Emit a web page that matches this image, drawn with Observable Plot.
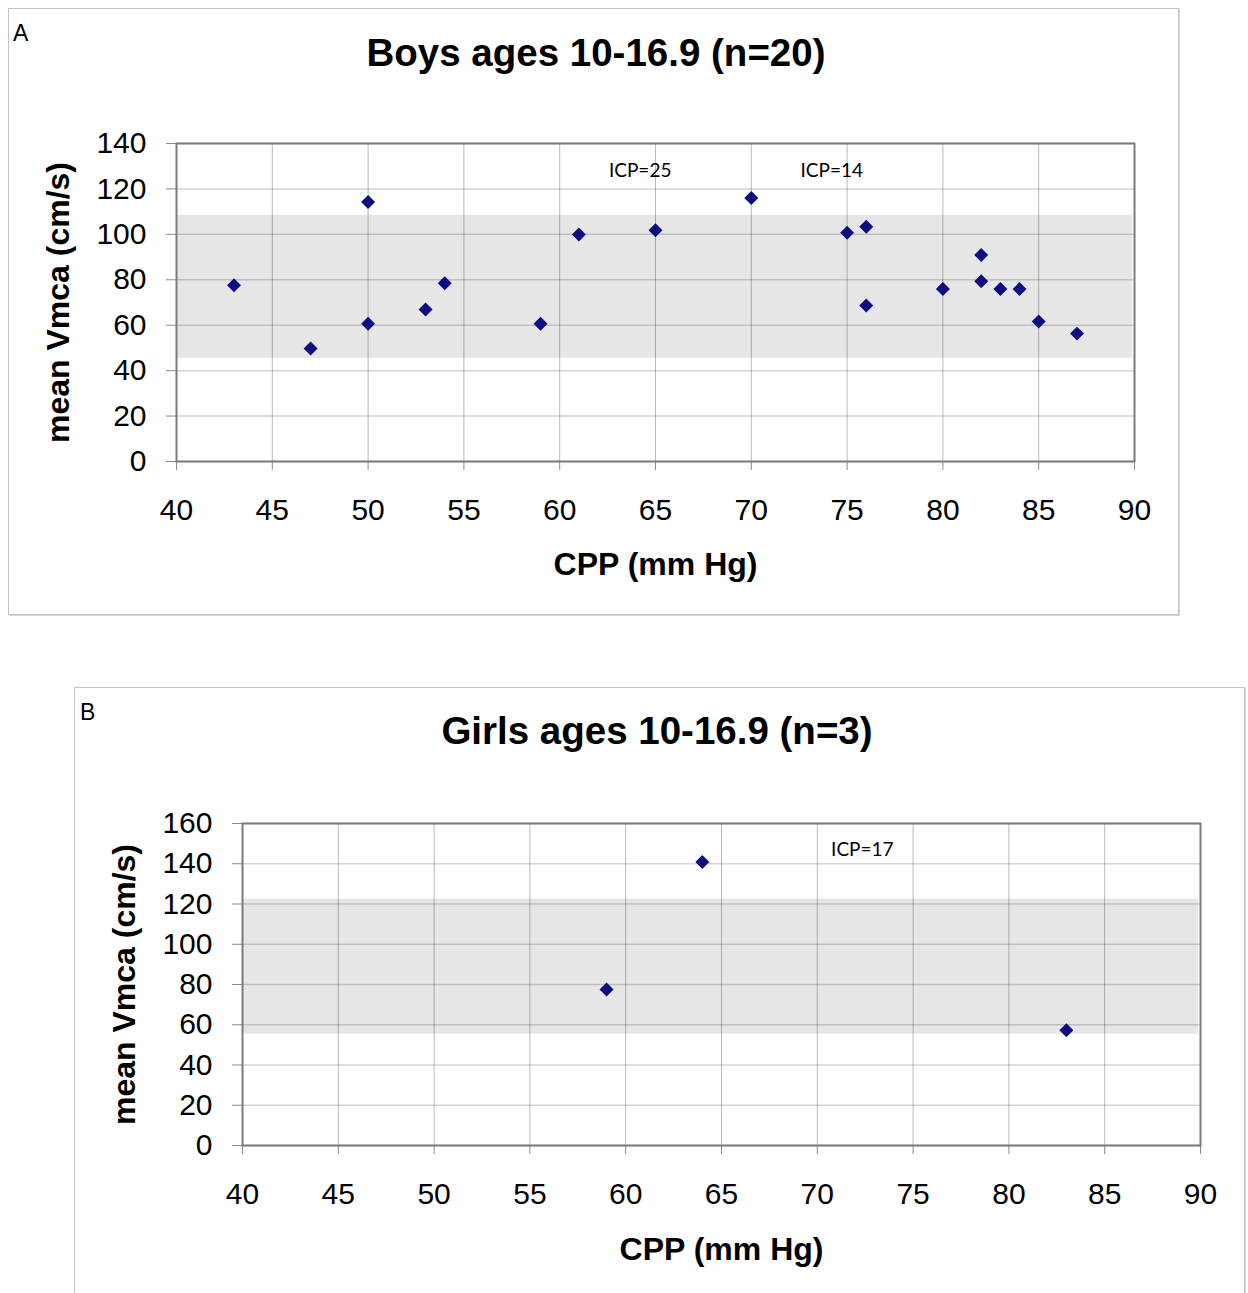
<!DOCTYPE html>
<html>
<head>
<meta charset="utf-8">
<script src="https://cdn.jsdelivr.net/npm/d3@7"></script>
<script src="https://cdn.jsdelivr.net/npm/@observablehq/plot@0.6"></script>
<style>
  html, body { margin: 0; padding: 0; background: #fff; }
  body { position: relative; width: 1248px; height: 1293px; overflow: hidden; font-family: "Liberation Sans", Arial, sans-serif; }
  .panel { position: absolute; box-sizing: border-box; border: 1px solid #c4c4c4; box-shadow: 1px 1px 0 #d6d6d6; background: #fff; }
  .plabel { position: absolute; font-size: 23px; line-height: 23px; color: #000; }
  .title { position: absolute; width: 800px; text-align: center; font-size: 38.5px; line-height: 38px; font-weight: bold; color: #000; white-space: nowrap; }
  .chart { position: absolute; }
</style>
</head>
<body>
<div class="panel" style="left:8px;top:8px;width:1171px;height:607px"></div>
<div class="panel" style="left:74px;top:687px;width:1171px;height:700px"></div>
<div class="plabel" style="left:13px;top:22px">A</div>
<div class="plabel" style="left:80px;top:701px">B</div>
<div class="title" style="left:196px;top:34px">Boys ages 10-16.9 (n=20)</div>
<div class="title" style="left:257px;top:712px">Girls ages 10-16.9 (n=3)</div>
<div id="chartA" class="chart" style="left:9px;top:100px"></div>
<div id="chartB" class="chart" style="left:75px;top:780px"></div>
<script>
// ---- data ----
const xTicks = [40, 45, 50, 55, 60, 65, 70, 75, 80, 85, 90];
const yTicksBoys = [0, 20, 40, 60, 80, 100, 120, 140];
const yTicksGirls = [0, 20, 40, 60, 80, 100, 120, 140, 160];

const boysCPP  = [43, 47, 50, 50, 53, 54, 59, 61, 65, 70, 75, 76, 76, 80, 82, 82, 83, 84, 85, 87];
const boysVmca = [77.6, 49.8, 114.2, 60.6, 66.9, 78.5, 60.6, 99.9, 101.8, 116, 100.7, 103.4, 68.7, 75.9, 90.9, 79.4, 75.9, 75.9, 61.6, 56.3];
const boysBand = [45.4, 108.4];
const boysNotes = ["ICP=25", "ICP=14"];
const boysNoteX = [64.2, 74.2];
const boysNoteY = [128, 128];

const girlsCPP  = [59, 64, 83];
const girlsVmca = [77.5, 140.9, 57.3];
const girlsBand = [55.3, 122.4];
const girlsNotes = ["ICP=17"];
const girlsNoteX = [72.35];
const girlsNoteY = [146.7];

const xTitle = "CPP (mm Hg)";
const yTitle = "mean Vmca (cm/s)";

function makePanel({cpp, vmca, band, yTicks, notes, noteX, noteY, height, marginBottom, xTitleDy}) {
  const idx = d3.range(cpp.length);
  const nidx = d3.range(notes.length);
  return Plot.plot({
    width: 1168,
    height,
    marginLeft: 167,
    marginRight: 43,
    marginTop: 43,
    marginBottom,
    style: {fontFamily: "'Liberation Sans', Arial, sans-serif", background: "transparent", overflow: "visible", color: "#000"},
    x: {domain: [40, 90]},
    y: {domain: [0, yTicks[yTicks.length - 1]]},
    marks: [
      Plot.rect([band], {x1: 40, x2: 89.9, y1: d => d[0], y2: d => d[1], fill: "#e6e6e6"}),
      Plot.gridY(yTicks, {stroke: "#000", strokeOpacity: 0.17, strokeWidth: 1.5}),
      Plot.gridX(xTicks, {stroke: "#000", strokeOpacity: 0.27, strokeWidth: 1}),
      Plot.axisX(xTicks, {tickSize: 9, tickPadding: 28, fontSize: 30, label: null, tickFormat: d => String(d), stroke: "#8a8a8a", fill: "#000"}),
      Plot.axisY(yTicks, {tickSize: 10, tickPadding: 20, fontSize: 30, label: null, tickFormat: d => String(d), stroke: "#8a8a8a", fill: "#000"}),
      Plot.frame({stroke: "#7a7a7a", strokeWidth: 2}),
      Plot.dot(idx, {x: i => cpp[i], y: i => vmca[i], symbol: "diamond2", r: 6.3, fill: "#0e0e80", stroke: null}),
      Plot.text(nidx, {x: i => noteX[i], y: i => noteY[i], text: i => notes[i], fontSize: 19, fontFamily: "Lato, 'Open Sans', sans-serif", fill: "#000"}),
      Plot.text([xTitle], {text: d => d, frameAnchor: "bottom", lineAnchor: "middle", textAnchor: "middle", dy: xTitleDy, fontSize: 32, fontWeight: "bold", fill: "#000"}),
      Plot.text([yTitle], {text: d => d, frameAnchor: "left", lineAnchor: "middle", textAnchor: "middle", dx: -118, rotate: -90, fontSize: 32, fontWeight: "bold", fill: "#000"})
    ]
  });
}

document.getElementById("chartA").append(makePanel({
  cpp: boysCPP, vmca: boysVmca, band: boysBand, yTicks: yTicksBoys,
  notes: boysNotes, noteX: boysNoteX, noteY: boysNoteY,
  height: 510, marginBottom: 149, xTitleDy: 103
}));
document.getElementById("chartB").append(makePanel({
  cpp: girlsCPP, vmca: girlsVmca, band: girlsBand, yTicks: yTicksGirls,
  notes: girlsNotes, noteX: girlsNoteX, noteY: girlsNoteY,
  height: 513, marginBottom: 148, xTitleDy: 104
}));
</script>
</body>
</html>
